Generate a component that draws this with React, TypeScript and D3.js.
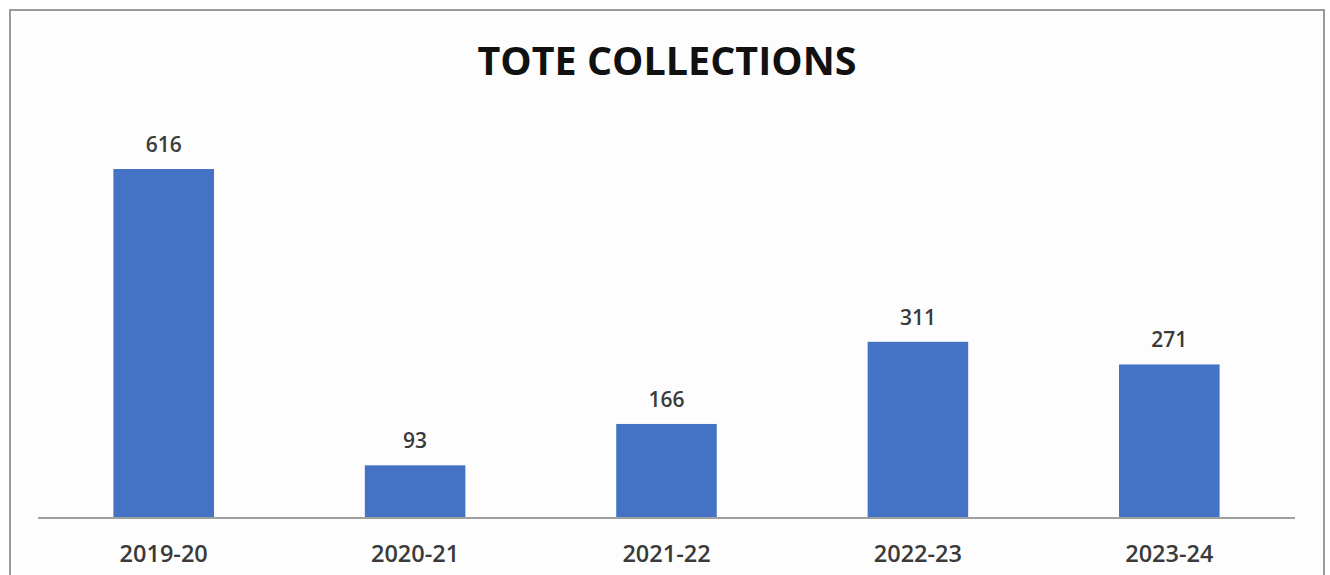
import React from "react";
import * as d3 from "d3";

const categories = ["2019-20", "2020-21", "2021-22", "2022-23", "2023-24"];
const values = [616, 93, 166, 311, 271];
const title = "TOTE COLLECTIONS";

export default function App() {
  const W = 1330, H = 575;
  const x = d3.scaleBand<string>().domain(categories).range([38, 1295]).paddingInner(0.6).paddingOuter(0.3);
  const y = d3.scaleLinear().domain([0, 616]).range([518, 169]);
  const font = "'Open Sans', 'Noto Sans', sans-serif";
  return (
    <svg width={W} height={H} style={{ position: "absolute", left: 0, top: 0 }}>
      <rect x={0} y={0} width={W} height={H} fill="#ffffff" />
      <rect x={10} y={10} width={1314} height={H} fill="#fdfdfd" stroke="#9a9a9a" strokeWidth={2} />
      <text x={667} y={75} textAnchor="middle" fontFamily={font} fontWeight={700} fontSize={40}
        textLength={379} lengthAdjust="spacingAndGlyphs" fill="#111">{title}</text>
      {categories.map((c, i) => (
        <g key={c}>
          <rect x={x(c)} y={y(values[i])} width={x.bandwidth()} height={y(0) - y(values[i])} fill="#4472C4" />
          <text x={(x(c) as number) + x.bandwidth() / 2} y={y(values[i]) - 17} textAnchor="middle"
            fontFamily={font} fontSize={21} fontWeight={600} fill="#3a3a3a">{values[i]}</text>
          <text x={(x(c) as number) + x.bandwidth() / 2} y={562} textAnchor="middle"
            fontFamily={font} fontSize={23.5} fontWeight={600} fill="#3a3a3a">{c}</text>
        </g>
      ))}
      <line x1={38} x2={1295} y1={518} y2={518} stroke="#a0a0a0" strokeWidth={2} />
    </svg>
  );
}
